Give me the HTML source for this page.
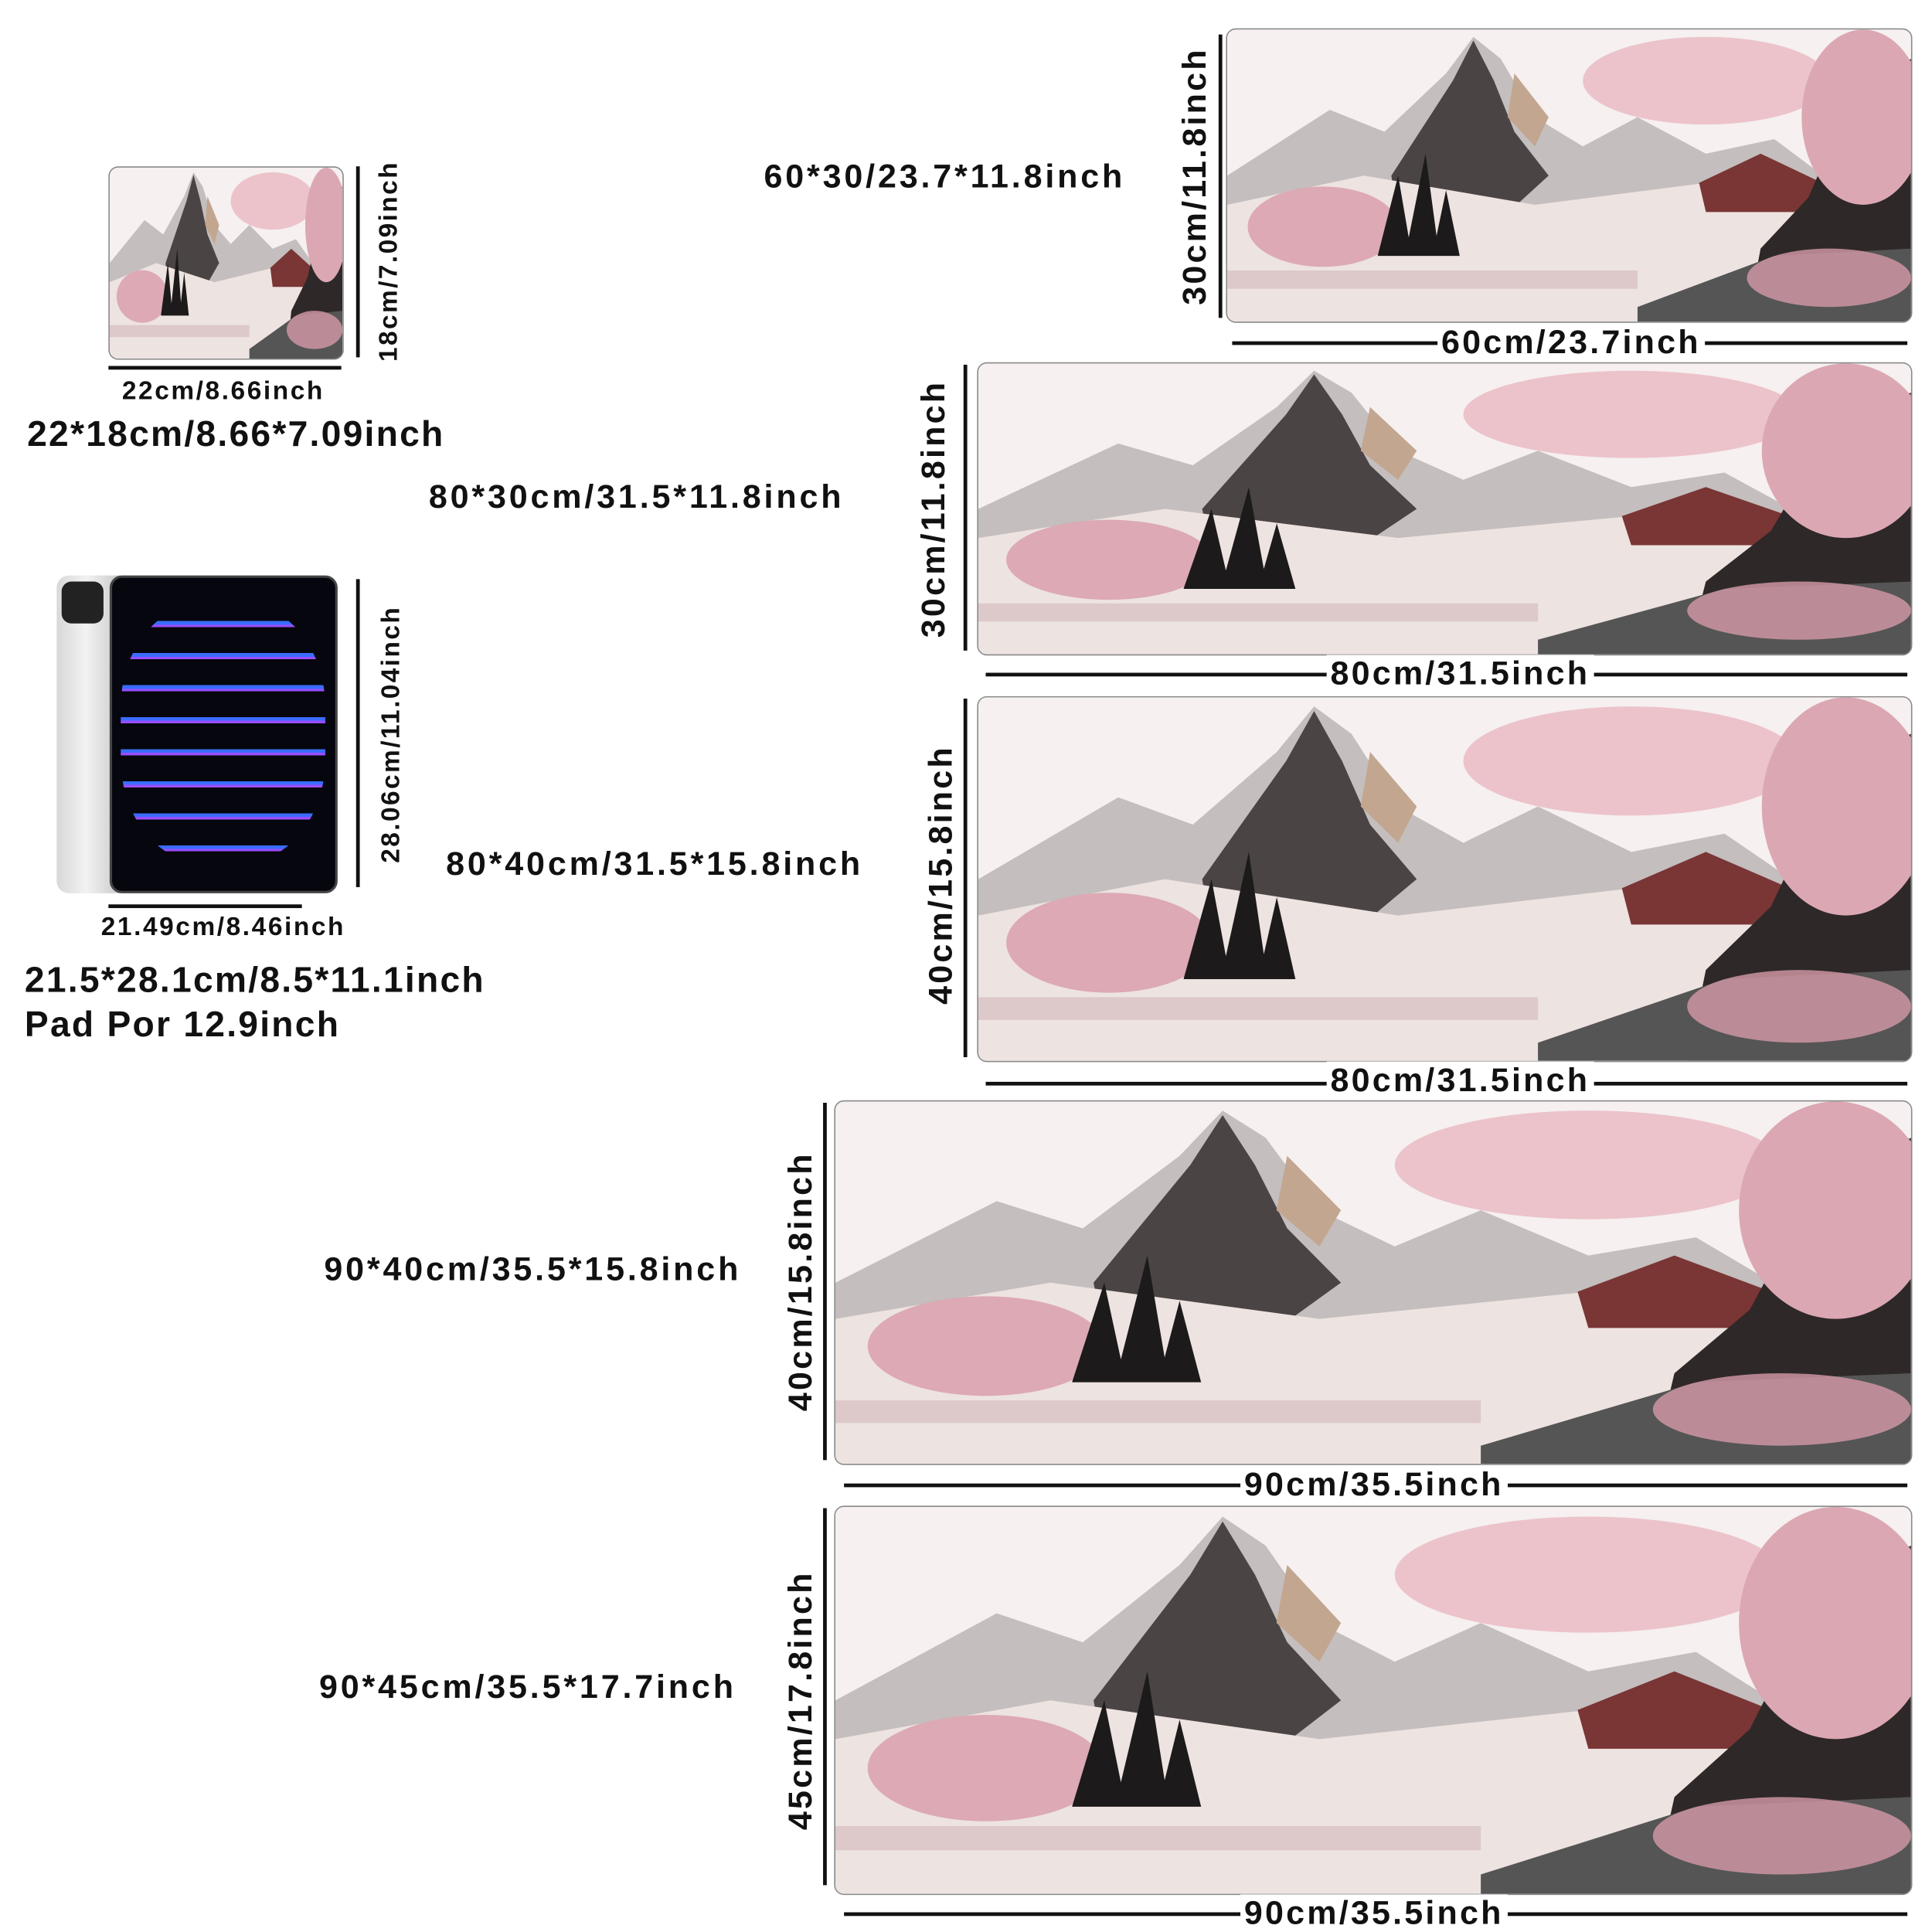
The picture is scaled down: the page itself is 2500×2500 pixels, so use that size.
<!DOCTYPE html>
<html><head><meta charset="utf-8">
<style>
html,body{margin:0;padding:0;background:#fff;}
#root{position:relative;width:1568px;height:1568px;transform:scale(1.59439);transform-origin:0 0;font-family:"Liberation Sans",sans-serif;font-weight:bold;color:#111;overflow:hidden;}
.a{position:absolute;}
.t{position:absolute;white-space:nowrap;font-size:27px;letter-spacing:2.4px;}
.vl{position:absolute;width:3px;background:#111;}
.hl{position:absolute;height:3px;background:#111;}
.vt{position:absolute;white-space:nowrap;transform:translate(-50%,-50%) rotate(-90deg);font-size:27px;letter-spacing:2px;}
.ht{position:absolute;white-space:nowrap;transform:translate(-50%,-50%);background:#fff;padding:0 3px;font-size:27px;letter-spacing:2px;}
.pad{position:absolute;border-radius:8px;overflow:hidden;border:1px solid #888;}
.pad svg{width:100%;height:100%;display:block;}
</style></head><body>
<svg width="0" height="0" style="position:absolute">
<defs>
<symbol id="art" viewBox="0 0 1000 400" preserveAspectRatio="none">
<rect width="1000" height="400" fill="#f6f0f0"/>
<path d="M50 170 L150 110 L230 140 L320 60 L360 10 L400 40 L450 120 L520 160 L600 120 L700 170 L800 150 L900 220 L1000 200 L1000 400 L0 400 L0 200 Z" fill="#c4bebe"/>
<path d="M240 200 L330 70 L360 15 L390 70 L420 140 L470 200 L400 260 L250 260 Z" fill="#4a4444"/>
<path d="M420 60 L470 120 L450 160 L410 120 Z" fill="#c2a690"/>
<path d="M0 240 L200 200 L450 240 L700 210 L1000 260 L1000 400 L0 400 Z" fill="#ede3e0"/>
<ellipse cx="140" cy="270" rx="110" ry="55" fill="#dca9b4"/>
<path d="M220 310 L250 200 L270 310 Z M260 310 L290 170 L310 310 Z M300 310 L320 220 L340 310 Z" fill="#1c1a1a"/>
<path d="M700 250 L840 250 L870 210 L780 170 L690 210 Z" fill="#7a3535"/>
<path d="M760 400 L780 300 L850 230 L900 120 L960 60 L1000 40 L1000 400 Z" fill="#2e2828"/>
<ellipse cx="700" cy="70" rx="180" ry="60" fill="#ecc3cb"/>
<ellipse cx="930" cy="120" rx="90" ry="120" fill="#dba7b3"/>
<path d="M600 380 L800 310 L1000 300 L1000 400 L600 400 Z" fill="#555"/>
<rect x="0" y="330" width="600" height="25" fill="#d6bcc0" opacity="0.7"/>
<ellipse cx="880" cy="340" rx="120" ry="40" fill="#d49aa8" opacity="0.8"/>
</symbol>
</defs></svg>
<div id="root">
<div class="pad" style="left:88px;top:135px;width:189px;height:155px;"><svg><use href="#art"/></svg></div>
<div class="vl" style="left:289px;top:135px;height:155px;"></div>
<div class="vt" style="left:316px;top:212px;font-size:21px;letter-spacing:1.5px;">18cm/7.09inch</div>
<div class="hl" style="left:88px;top:297px;width:189px;"></div>
<div class="t" style="left:99px;top:306px;font-size:21px;letter-spacing:1.6px;">22cm/8.66inch</div>
<div class="t" style="left:22px;top:337px;font-size:29px;letter-spacing:1.4px;">22*18cm/8.66*7.09inch</div>
<div class="a" style="left:46px;top:467px;width:60px;height:258px;border-radius:10px;background:linear-gradient(90deg,#d8d8d8,#f2f2f2 40%,#bdbdbd);"></div>
<div class="a" style="left:50px;top:472px;width:34px;height:34px;border-radius:8px;background:#222;"></div>
<div class="a" style="left:89px;top:467px;width:185px;height:258px;border-radius:10px;background:#05060e;border:2px solid #444;box-sizing:border-box;"></div>
<div class="a" style="left:98px;top:490px;width:166px;height:210px;background:repeating-linear-gradient(180deg,#05060e 0 14px,#3a6cff 14px 17px,#9a4dff 17px 19px,#05060e 19px 26px);border-radius:40%;"></div>
<div class="vl" style="left:289px;top:470px;height:250px;"></div>
<div class="vt" style="left:318px;top:596px;font-size:21px;letter-spacing:1.5px;">28.06cm/11.04inch</div>
<div class="hl" style="left:88px;top:734px;width:157px;"></div>
<div class="t" style="left:82px;top:741px;font-size:21px;letter-spacing:1.6px;">21.49cm/8.46inch</div>
<div class="t" style="left:20px;top:780px;font-size:29px;letter-spacing:1.4px;">21.5*28.1cm/8.5*11.1inch</div>
<div class="t" style="left:20px;top:816px;font-size:29px;letter-spacing:1.4px;">Pad Por 12.9inch</div>
<div class="pad" style="left:995px;top:23px;width:555px;height:237px;"><svg><use href="#art"/></svg></div>
<div class="vl" style="left:989px;top:28px;height:230px;"></div>
<div class="vt" style="left:970px;top:143px;">30cm/11.8inch</div>
<div class="hl" style="left:1000px;top:277px;width:548px;"></div>
<div class="ht" style="left:1275px;top:278px;">60cm/23.7inch</div>
<div class="t" style="left:620px;top:128px;">60*30/23.7*11.8inch</div>
<div class="pad" style="left:793px;top:294px;width:757px;height:236px;"><svg><use href="#art"/></svg></div>
<div class="vl" style="left:782px;top:296px;height:232px;"></div>
<div class="vt" style="left:758px;top:413px;">30cm/11.8inch</div>
<div class="hl" style="left:800px;top:546px;width:748px;"></div>
<div class="ht" style="left:1185px;top:547px;">80cm/31.5inch</div>
<div class="t" style="left:348px;top:388px;">80*30cm/31.5*11.8inch</div>
<div class="pad" style="left:793px;top:565px;width:757px;height:295px;"><svg><use href="#art"/></svg></div>
<div class="vl" style="left:782px;top:567px;height:291px;"></div>
<div class="vt" style="left:764px;top:710px;">40cm/15.8inch</div>
<div class="hl" style="left:800px;top:878px;width:748px;"></div>
<div class="ht" style="left:1185px;top:877px;">80cm/31.5inch</div>
<div class="t" style="left:362px;top:686px;">80*40cm/31.5*15.8inch</div>
<div class="pad" style="left:677px;top:893px;width:873px;height:294px;"><svg><use href="#art"/></svg></div>
<div class="vl" style="left:668px;top:895px;height:290px;"></div>
<div class="vt" style="left:650px;top:1040px;">40cm/15.8inch</div>
<div class="hl" style="left:685px;top:1204px;width:863px;"></div>
<div class="ht" style="left:1115px;top:1205px;">90cm/35.5inch</div>
<div class="t" style="left:263px;top:1015px;">90*40cm/35.5*15.8inch</div>
<div class="pad" style="left:677px;top:1222px;width:873px;height:314px;"><svg><use href="#art"/></svg></div>
<div class="vl" style="left:668px;top:1224px;height:306px;"></div>
<div class="vt" style="left:650px;top:1380px;">45cm/17.8inch</div>
<div class="hl" style="left:685px;top:1552px;width:863px;"></div>
<div class="ht" style="left:1115px;top:1553px;">90cm/35.5inch</div>
<div class="t" style="left:259px;top:1354px;">90*45cm/35.5*17.7inch</div>
</div>
</body></html>
